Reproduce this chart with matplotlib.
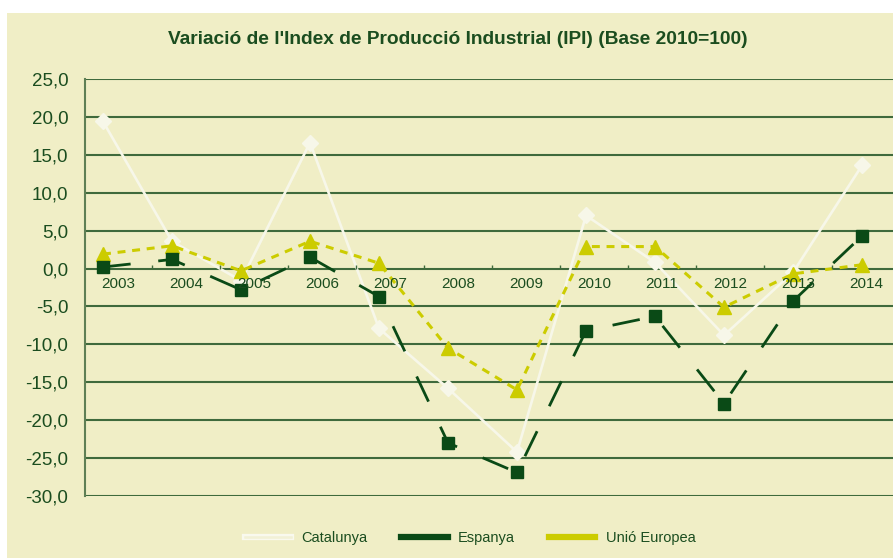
import numpy as np
import matplotlib.pyplot as plt
from matplotlib.lines import Line2D
from matplotlib.patches import Rectangle
import matplotlib.patheffects as pe

# data
anys = ['2003', '2004', '2005', '2006', '2007', '2008',
        '2009', '2010', '2011', '2012', '2013', '2014']
catalunya = [19.4, 3.6, -1.6, 16.6, -7.9, -15.8, -24.2, 7.0, 0.8, -8.8, -0.5, 13.6]
espanya = [0.2, 1.2, -2.8, 1.5, -3.7, -23.0, -26.9, -8.2, -6.3, -17.8, -4.3, 4.3]
ue = [1.9, 3.0, -0.3, 3.6, 0.7, -10.5, -16.0, 2.9, 2.9, -5.1, -0.7, 0.5]
yticks = list(range(-30, 30, 5))

bg = '#f0eec6'
txt = '#1b4d1f'
grid_c = '#3f6a3c'
c_cat = '#f7f7e9'
c_esp = '#0a4a16'
c_ue = '#cccc00'

plt.rcParams['font.family'] = ['Liberation Sans', 'DejaVu Sans']

fig = plt.figure(figsize=(8.93, 5.58), dpi=100)
fig.patch.set_facecolor('white')
# chart background (white strip at top and left like the source)
fig.patches.append(Rectangle((7/893, 0), 1, 1 - 13/558, transform=fig.transFigure,
                             facecolor=bg, edgecolor='none', zorder=-10))

ax = fig.add_axes([85/893, 1 - 496/558, 808/893, (496 - 79)/558])
ax.set_facecolor('none')
x = np.arange(len(anys))
ax.set_xlim(-0.261, 11.449)
ax.set_ylim(-30, 25)

# grid
for v in yticks:
    ax.axhline(v, color=grid_c, lw=1.5, zorder=1)
for s in ['top', 'right', 'bottom']:
    ax.spines[s].set_visible(False)
ax.spines['left'].set_color('#5f7f55')
ax.spines['left'].set_linewidth(1.5)

ax.set_xticks([])
ax.set_yticks(yticks)
ax.set_yticklabels([f'{v:.1f}'.replace('.', ',') for v in yticks],
                   fontsize=13.5, color=txt)
ax.tick_params(axis='y', length=0, pad=12)

# series
ax.plot(x, catalunya, color=c_cat, lw=1.9, marker='D', ms=8, mec=c_cat,
        mfc=c_cat, zorder=3)
ax.plot(x, ue, color=c_ue, lw=2.2, dashes=(2.6, 2.2), marker='^', ms=9.5,
        mec=c_ue, mfc=c_ue, zorder=4)
ax.plot(x, espanya, color=c_esp, lw=2.0, dashes=(10, 10), marker='s', ms=9,
        mec=c_esp, mfc=c_esp, zorder=5)

# category axis: labels and small boundary ticks along the zero line
ax2 = ax.twiny()
ax2.set_xlim(-0.485, 11.397)
ax2.set_ylim(-30, 25)
ax2.axis('off')
for i, a in enumerate(anys):
    ax2.text(i, -2.1, a, ha='center', va='center', fontsize=11, color=txt, zorder=2)
ax2.vlines(np.arange(len(anys)) - 0.5, 0, 0.45, color=grid_c, lw=1)

fig.text(458/893, 1 - 40/558,
         "Variació de l'Index de Producció Industrial (IPI) (Base 2010=100)",
         ha='center', va='center', fontsize=13.8, fontweight='bold', color=txt)

# legend
h_cat = Line2D([], [], color='white', lw=4.5,
               path_effects=[pe.Stroke(linewidth=4.5, foreground='#f9f9ee'),
                             pe.Stroke(linewidth=1.8, foreground='#f2f1d6')])
h_esp = Line2D([], [], color=c_esp, lw=4.5)
h_ue = Line2D([], [], color=c_ue, lw=4.5)
fig.legend([h_cat, h_esp, h_ue], ['Catalunya', 'Espanya', 'Unió Europea'],
           loc='center', bbox_to_anchor=(470/893, 1 - 538/558), ncol=3,
           frameon=False, handlelength=3.2, handletextpad=0.7, columnspacing=2.3,
           prop={'size': 10.5}, labelcolor=txt)

fig.savefig('out.png', dpi=100, facecolor=fig.get_facecolor())
